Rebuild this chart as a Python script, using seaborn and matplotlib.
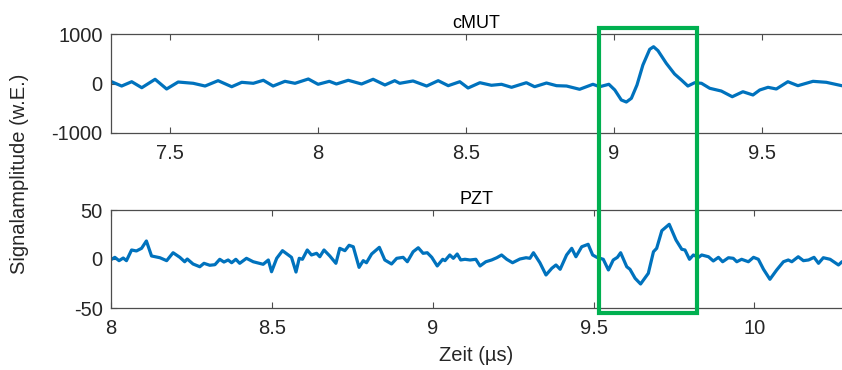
import numpy as np
import pandas as pd
import matplotlib
matplotlib.use("Agg")
import matplotlib.pyplot as plt
import seaborn as sns
from matplotlib.patches import Rectangle

# ---- data ----
cmut_t = [7.302, 7.336, 7.370, 7.404, 7.449, 7.488, 7.527, 7.578, 7.618, 7.662,
          7.708, 7.742, 7.781, 7.815, 7.848, 7.888, 7.922, 7.967, 8.000, 8.038,
          8.062, 8.102, 8.147, 8.186, 8.226, 8.259, 8.276, 8.321, 8.367, 8.406,
          8.440, 8.479, 8.507, 8.547, 8.586, 8.620, 8.654, 8.704, 8.732, 8.772,
          8.806, 8.840, 8.884, 8.929, 8.952, 8.983, 9.003, 9.025, 9.042, 9.059,
          9.078, 9.098, 9.121, 9.134, 9.149, 9.177, 9.205, 9.228, 9.250, 9.273,
          9.296, 9.324, 9.363, 9.400, 9.436, 9.470, 9.493, 9.521, 9.549, 9.588,
          9.622, 9.673, 9.718, 9.770, 9.800]
cmut_amp = [36, -51, 36, -85, 85, -111, 30, 4, -51, 57,
            -65, 24, 4, 65, -51, 44, 4, 91, -16, 44,
            -10, 65, -10, 85, -30, 57, 4, 51, -51, 57,
            -44, 36, -91, 16, -36, -16, -77, 16, -65, 10,
            -44, -51, -117, -16, -65, -16, -131, -333, -374, -299,
            -30, 374, 691, 743, 663, 408, 192, 71, -51, 16,
            4, -97, -152, -267, -166, -232, -131, -77, -111, 36,
            -44, 44, 24, -44, -50]

pzt_t = [8.002, 8.012, 8.025, 8.038, 8.048, 8.064, 8.079, 8.095, 8.110, 8.126,
         8.152, 8.173, 8.193, 8.214, 8.229, 8.237, 8.255, 8.276, 8.289, 8.307,
         8.323, 8.338, 8.351, 8.364, 8.375, 8.388, 8.400, 8.421, 8.442, 8.473,
         8.489, 8.499, 8.515, 8.533, 8.551, 8.561, 8.575, 8.585, 8.595, 8.610,
         8.623, 8.639, 8.649, 8.662, 8.680, 8.699, 8.711, 8.727, 8.740, 8.753,
         8.771, 8.784, 8.794, 8.810, 8.834, 8.851, 8.872, 8.888, 8.908, 8.921,
         8.939, 8.955, 8.970, 8.983, 8.997, 9.014, 9.031, 9.038, 9.053, 9.064,
         9.076, 9.087, 9.100, 9.116, 9.134, 9.147, 9.165, 9.183, 9.199, 9.214,
         9.230, 9.248, 9.271, 9.290, 9.302, 9.313, 9.333, 9.352, 9.370, 9.383,
         9.396, 9.416, 9.432, 9.445, 9.463, 9.483, 9.497, 9.510, 9.530, 9.546,
         9.561, 9.574, 9.584, 9.603, 9.613, 9.629, 9.646, 9.670, 9.686, 9.696,
         9.712, 9.735, 9.756, 9.774, 9.784, 9.798, 9.810, 9.826, 9.836, 9.857,
         9.872, 9.888, 9.901, 9.919, 9.934, 9.945, 9.960, 9.981, 9.997, 10.012,
         10.028, 10.048, 10.069, 10.090, 10.105, 10.116, 10.136, 10.152, 10.168, 10.185,
         10.199, 10.214, 10.235, 10.261, 10.272, 10.300]
pzt_amp = [-0.3, 1.7, -1.7, 1.0, -1.7, 9.2, 8.2, 10.9, 18.4, 3.1,
           1.3, -1.7, 6.4, 1.7, -2.8, 0.0, -5.1, -7.9, -4.4, -6.4,
           -5.8, -0.3, -3.1, -1.0, -3.8, -0.3, -4.4, 0.7, -2.8, -5.4,
           -1.0, -13.0, 0.7, 8.5, 4.1, 1.7, -13.3, 0.7, -0.3, 9.2,
           4.1, 5.8, 2.3, 9.2, 3.1, -4.4, 10.9, 8.5, 14.0, 12.5,
           -8.5, -1.7, -3.8, 5.1, 11.9, -1.0, -5.1, 0.7, 1.7, -2.8,
           7.4, 11.5, 5.8, 6.4, 1.7, -7.1, -0.3, -1.7, 4.1, 0.7,
           5.1, -1.0, -0.3, -1.0, -0.3, -7.1, -2.8, -1.0, 1.3, 4.1,
           -0.3, -3.8, 0.0, 1.3, 0.7, 6.4, -3.8, -16.3, -9.5, -6.1,
           -10.5, 4.1, 10.9, 2.3, 12.5, 15.0, 4.1, 1.7, -0.3, -11.2,
           -1.0, 1.7, 6.4, -7.9, -10.5, -19.7, -25.5, -14.6, 7.4, 10.9,
           28.9, 35.4, 19.4, 9.9, 9.2, -0.3, 4.1, 1.7, 4.1, 2.3,
           -2.0, 1.7, -2.8, 1.3, 0.7, -2.8, -0.3, -2.8, 1.7, -0.3,
           -10.5, -20.7, -11.2, -2.8, -1.0, -2.8, 2.3, -1.7, -1.0, 1.7,
           -4.4, 1.3, -0.3, -6.1, -2.8, 0.0]

titles = ["cMUT", "PZT"]
cmut_xticks = [7.5, 8, 8.5, 9, 9.5]
cmut_yticks = [-1000, 0, 1000]
pzt_xticks = [8, 8.5, 9, 9.5, 10]
pzt_yticks = [-50, 0, 50]

# ---- style ----
sns.set_theme(style="white")
plt.rcParams["font.family"] = ["Liberation Sans", "DejaVu Sans"]
LINE = "#0072BD"
DARK = "#262626"
FS = 14.5

fig = plt.figure(figsize=(8.42, 3.70), dpi=100)
W, H = 842, 370
left = 111 / W
width = (842 - 111) / W
ax1 = fig.add_axes([left, 1 - 133 / H, width, (133 - 34) / H])
ax2 = fig.add_axes([left, 1 - 308 / H, width, (308 - 210) / H])

df1 = pd.DataFrame({"t": cmut_t, "a": cmut_amp})
df2 = pd.DataFrame({"t": pzt_t, "a": pzt_amp})
sns.lineplot(data=df1, x="t", y="a", ax=ax1, color=LINE, linewidth=2.3,
             sort=False, estimator=None)
sns.lineplot(data=df2, x="t", y="a", ax=ax2, color=LINE, linewidth=2.3,
             sort=False, estimator=None)

for ax, title, xt, yt, xl, yl in [
    (ax1, titles[0], cmut_xticks, cmut_yticks, (7.30, 9.771), (-1000, 1000)),
    (ax2, titles[1], pzt_xticks, pzt_yticks, (8.0, 10.272), (-50, 50)),
]:
    ax.set_xlim(*xl)
    ax.set_ylim(*yl)
    ax.set_xticks(xt)
    ax.set_xticklabels([f"{v:g}" for v in xt])
    ax.set_yticks(yt)
    ax.set_yticklabels([f"{v:g}" for v in yt])
    ax.set_xlabel("")
    ax.set_ylabel("")
    ax.set_title(title, fontsize=13, color="black", pad=4)
    for s in ["left", "top", "bottom"]:
        ax.spines[s].set_visible(True)
        ax.spines[s].set_color("#4d4d4d")
        ax.spines[s].set_linewidth(0.9)
    ax.spines["right"].set_visible(False)
    ax.tick_params(axis="x", direction="in", top=True, bottom=True, length=4,
                   width=0.8, color="#4d4d4d", labelsize=FS, labelcolor=DARK, pad=8)
    ax.tick_params(axis="y", direction="in", left=True, right=False, length=4,
                   width=0.8, color="#4d4d4d", labelsize=FS, labelcolor=DARK, pad=6)
    ax.set_facecolor("white")

ax2.set_xlabel("Zeit (\u00b5s)", fontsize=FS, color=DARK, labelpad=6)
fig.text(20 / W, 1 - 174 / H, "Signalamplitude (w.E.)", rotation=90,
         ha="center", va="center", fontsize=FS, color=DARK)

rect = Rectangle((599 / W, 1 - 313 / H), (697 - 599) / W, (313 - 27.5) / H,
                 transform=fig.transFigure, fill=False, edgecolor="#00B050",
                 linewidth=3, zorder=10)
fig.add_artist(rect)

fig.savefig("out.png", dpi=100, facecolor="white")
